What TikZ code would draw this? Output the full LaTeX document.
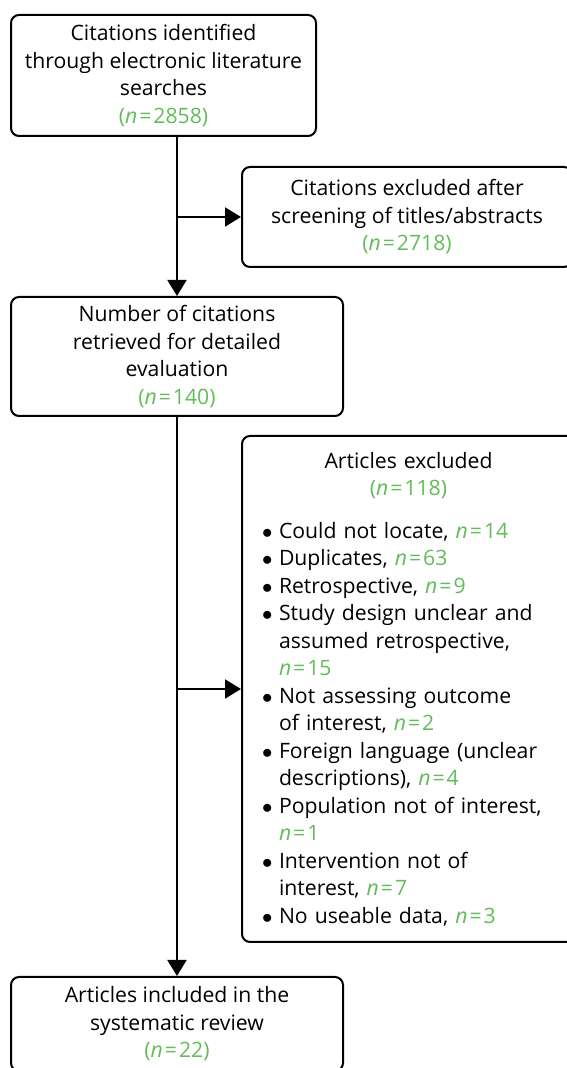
\documentclass[tikz,border=0pt]{standalone}
\usepackage{fontspec}
\setmainfont{Open Sans}
\usetikzlibrary{arrows.meta}
\definecolor{NGreen}{RGB}{98,188,88}
\newcommand{\nval}[1]{\textcolor{NGreen}{\textit{n}\kern2pt=\kern2pt#1}}
\newcommand{\npar}[1]{\textcolor{NGreen}{(\nval{#1})}}
\newcommand{\bul}{\makebox[17pt][l]{$\bullet$}}
\newcommand{\ind}{\hspace*{17pt}}
\begin{document}
\begin{tikzpicture}[x=1pt,y=1pt,font=\fontsize{21.2}{27.5}\selectfont,
 line width=2pt,>={Triangle[length=16pt,width=19pt]},
 box/.style={draw,rounded corners=8pt,align=center,inner sep=0pt}]
\useasboundingbox (0,0) rectangle (566,1068);
\node[box,minimum width=305pt,minimum height=121pt] (ident) at (163.5,992.5)
 {Citations identified\\through electronic literature\\searches\\\npar{2858}};
\node[box,minimum width=330pt,minimum height=100pt] (screen) at (407,851)
 {Citations excluded after\\screening of titles/abstracts\\\npar{2718}};
\node[box,minimum width=332pt,minimum height=119pt] (retr) at (177,711.5)
 {Number of citations\\retrieved for detailed\\evaluation\\\npar{140}};
\node[box,text width=293pt,inner xsep=20pt,minimum height=506pt,align=left] (excl) at (408.5,379)
 {{\centering Articles excluded\\\npar{118}\par}\vspace{15pt}
  \bul Could not locate, \nval{14}\\
  \bul Duplicates, \nval{63}\\
  \bul Retrospective, \nval{9}\\
  \bul Study design unclear and\\
  \ind assumed retrospective,\\
  \ind \nval{15}\\
  \bul Not assessing outcome\\
  \ind of interest, \nval{2}\\
  \bul Foreign language (unclear\\
  \ind descriptions), \nval{4}\\
  \bul Population not of interest,\\
  \ind \nval{1}\\
  \bul Intervention not of\\
  \ind interest, \nval{7}\\
  \bul No useable data, \nval{3}};
\node[box,minimum width=332pt,minimum height=94pt] (incl) at (177,44)
 {Articles included in the\\systematic review\\\npar{22}};
\draw[->] (ident.south -| retr.north) -- (retr.north);
\draw[->] (screen.west -| retr.north) -- (screen.west);
\draw[->] (retr.south) -- (incl.north);
\draw[->] (excl.west -| retr.south) -- (excl.west);
\end{tikzpicture}
\end{document}
